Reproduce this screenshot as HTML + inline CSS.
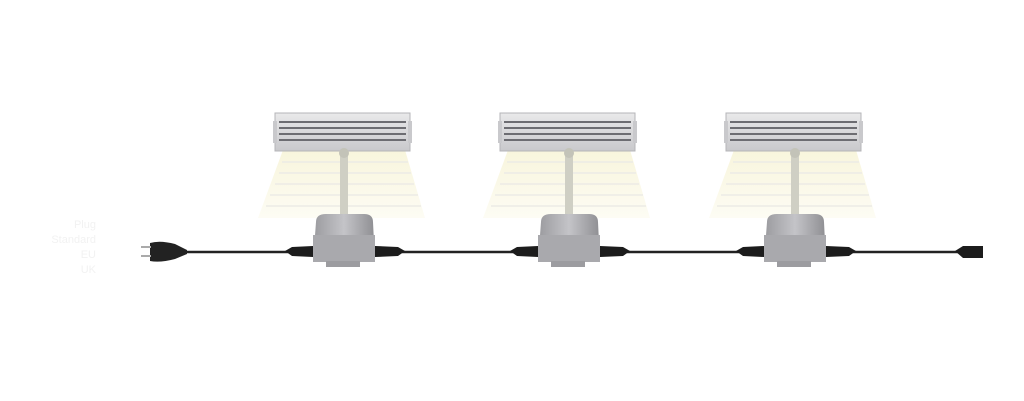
<!DOCTYPE html>
<html><head><meta charset="utf-8"><style>
html,body{margin:0;padding:0;background:#fff}
svg{display:block}
</style></head><body>
<svg width="1024" height="401" viewBox="0 0 1024 401" xmlns="http://www.w3.org/2000/svg">
<defs>
<linearGradient id="hd" x1="0" y1="0" x2="0" y2="1">
<stop offset="0" stop-color="#e9e9ea"/><stop offset="1" stop-color="#c9c9cc"/></linearGradient>
<linearGradient id="bs" x1="0" y1="0" x2="1" y2="0">
<stop offset="0" stop-color="#9a9a9e"/><stop offset="0.5" stop-color="#c4c4c8"/><stop offset="1" stop-color="#8e8e92"/></linearGradient>
<linearGradient id="bm" x1="0" y1="0" x2="0" y2="1">
<stop offset="0" stop-color="#f8f5dc"/><stop offset="1" stop-color="#fdfcf4"/></linearGradient>
<g id="lamp">
<polygon points="283,150 405,150 425,218 258,218" fill="url(#bm)"/>
<g stroke="#ecebe6" stroke-width="1.5">
<line x1="282" y1="162" x2="408" y2="162"/><line x1="279" y1="173" x2="411" y2="173"/>
<line x1="275" y1="184" x2="414" y2="184"/><line x1="270" y1="195" x2="418" y2="195"/>
<line x1="266" y1="206" x2="421" y2="206"/></g>
<rect x="275" y="113" width="135" height="38" fill="url(#hd)" stroke="#b5b5b8"/>
<rect x="273" y="121" width="4" height="22" fill="#c9c9cc"/><rect x="408" y="121" width="4" height="22" fill="#c9c9cc"/>
<g fill="#6d6d72"><rect x="279" y="121" width="127" height="2"/><rect x="279" y="127" width="127" height="2"/><rect x="279" y="133" width="127" height="2"/><rect x="279" y="139" width="127" height="2"/></g>
<rect x="340" y="151" width="8" height="75" fill="#cfcfc4"/>
<circle cx="344" cy="153" r="5" fill="#c3c3b8"/>
<path d="M316,222 Q316,214 326,214 L364,214 Q373,214 373,222 L375,262 L313,262 Z" fill="url(#bs)"/>
<rect x="313" y="235" width="62" height="27" fill="#a9a9ad"/>
<rect x="326" y="261" width="34" height="6" fill="#9c9ca0"/>
<path d="M285,251 L292,247 L313,246 L313,257 L292,256 Z" fill="#1c1c1c"/>
<path d="M375,246 L398,247 L405,251 L398,256 L375,257 Z" fill="#1c1c1c"/>
</g>
</defs>
<line x1="180" y1="252" x2="960" y2="252" stroke="#222" stroke-width="2.5"/>
<path d="M150,243 Q160,240 175,244 L187,250 L187,254 L175,259 Q160,263 150,261 Z" fill="#222"/>
<rect x="141" y="246" width="10" height="2" fill="#aaa"/><rect x="141" y="255" width="10" height="2" fill="#aaa"/>
<path d="M955,251 L963,246 L983,246 L983,258 L963,258 Z" fill="#1c1c1c"/>
<use href="#lamp"/>
<use href="#lamp" x="225"/>
<use href="#lamp" x="451"/>
<g font-family="Liberation Sans, sans-serif" font-size="11" fill="#f2f2f2" text-anchor="end">
<text x="96" y="228">Plug</text><text x="96" y="243">Standard</text><text x="96" y="258">EU</text><text x="96" y="273">UK</text>
</g>
</svg>
</body></html>
